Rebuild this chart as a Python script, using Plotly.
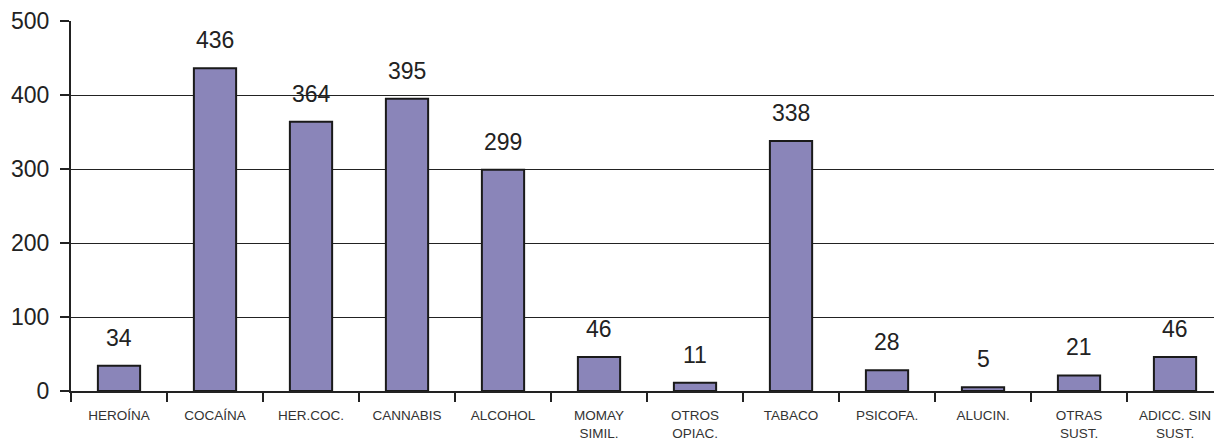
import plotly.graph_objects as go

categories = ["HEROÍNA", "COCAÍNA", "HER.COC.", "CANNABIS", "ALCOHOL", "MOMAY<br>SIMIL.",
              "OTROS<br>OPIAC.", "TABACO", "PSICOFA.", "ALUCIN.", "OTRAS<br>SUST.", "ADICC. SIN<br>SUST."]
values = [34, 436, 364, 395, 299, 46, 11, 338, 28, 5, 21, 46]
y_ticks = [0, 100, 200, 300, 400, 500]

FONT = "Liberation Sans, Arial, sans-serif"

fig = go.Figure()
fig.add_trace(go.Bar(
    x=categories, y=values,
    width=0.44,
    marker=dict(color="#8A85B9", line=dict(color="#1a1a1a", width=2)),
    hoverinfo="x+y",
))

for c, v in zip(categories, values):
    fig.add_annotation(x=c, y=v, text=str(v), showarrow=False, yanchor="bottom",
                       yshift=13, font=dict(family=FONT, size=23, color="#222"))

fig.update_layout(
    width=1214, height=442,
    margin=dict(l=71, r=0, t=21, b=51),
    plot_bgcolor="white", paper_bgcolor="white",
    showlegend=False,
)
fig.update_xaxes(
    type="category", range=[-0.5, 11.406],
    tickson="boundaries", ticks="outside", ticklen=9, tickwidth=2, tickcolor="#222",
    showline=True, linecolor="#222", linewidth=2, showgrid=False,
    ticklabelstandoff=11,
    tickfont=dict(family=FONT, size=13.5, color="#333"),
)
fig.update_yaxes(
    range=[0, 500], tickvals=y_ticks, ticks="outside", ticklen=9, tickwidth=2, tickcolor="#222",
    showline=True, linecolor="#222", linewidth=2,
    showgrid=True, gridcolor="#222", gridwidth=1, zeroline=False,
    ticklabelstandoff=6,
    tickfont=dict(family=FONT, size=23, color="#222"),
)

fig.write_html("out.html")
